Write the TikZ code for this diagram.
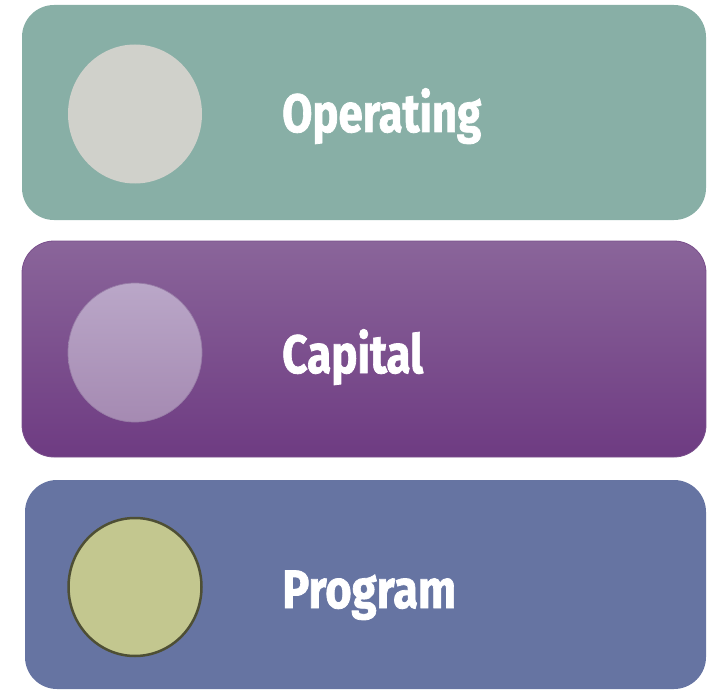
\documentclass[tikz,border=0pt]{standalone}
\usepackage{fontspec}
\setmainfont{Fira Sans}[BoldFeatures={FakeBold=1.5}]
\usetikzlibrary{shapes.geometric}
\definecolor{opbox}{HTML}{88AFA6}
\definecolor{opdot}{HTML}{D0D1CB}
\definecolor{captop}{HTML}{8A659A}
\definecolor{capbot}{HTML}{6E3B82}
\definecolor{capline}{HTML}{7A4F8C}
\definecolor{cdottop}{HTML}{BAA7C8}
\definecolor{cdotbot}{HTML}{A58AB2}
\definecolor{cdotline}{HTML}{987DA7}
\definecolor{prbox}{HTML}{6674A2}
\definecolor{prdot}{HTML}{C3C78F}
\definecolor{prline}{HTML}{4E4F34}
\tikzset{
  band/.style={rectangle, rounded corners=32pt, inner sep=0pt},
  dot/.style={ellipse, inner sep=0pt, minimum width=134pt, minimum height=139pt},
  label/.style={anchor=base west, inner sep=0pt, text=white,
    font=\fontsize{54}{60}\selectfont\bfseries},
}
\begin{document}
\begin{tikzpicture}[x=1pt,y=-1pt]
\useasboundingbox (0,0) rectangle (707,690);
% bands
\node[band, fill=opbox, minimum width=684pt, minimum height=215pt] (b1) at (364,112.5) {};
\node[band, top color=captop, bottom color=capbot, draw=capline, line width=0.8pt,
      minimum width=684pt, minimum height=216pt] (b2) at (364,349) {};
\node[band, fill=prbox, minimum width=681pt, minimum height=209pt] (b3) at (365.5,584.5) {};
% dots
\node[dot, fill=opdot] (d1) at (135,114) {};
\node[dot, top color=cdottop, bottom color=cdotbot, draw=cdotline, line width=0.7pt] (d2) at (135,352.5) {};
\node[dot, fill=prdot, draw=prline, line width=2.5pt, minimum width=133pt, minimum height=138pt] (d3) at (135,587) {};
% labels
\node[label] (t1) at (282,132) {\resizebox{199pt}{\height}{Operating}};
\node[label] (t2) at (282,373) {\resizebox{141pt}{\height}{Capital}};
\node[label] (t3) at (282,608) {\resizebox{174pt}{\height}{Program}};
\end{tikzpicture}
\end{document}
